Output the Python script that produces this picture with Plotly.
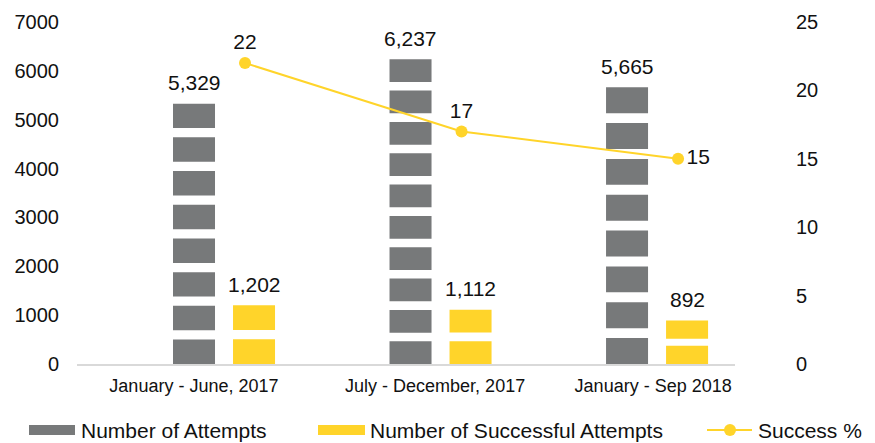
import numpy as np
import plotly.graph_objects as go

# ---- data -------------------------------------------------------------
periods = ["January - June, 2017", "July - December, 2017", "January - Sep 2018"]
attempts = [5329, 6237, 5665]
successful = [1202, 1112, 892]
success_pct = [22, 17, 15]

# ---- styling ----------------------------------------------------------
GRAY = "#77797A"
YELLOW = "#FFD42A"
FONT = "Arial, Liberation Sans, sans-serif"
TEXT = "#111111"

attempt_pieces = [8, 10, 8]      # stacked picture pieces per bar
success_pieces = [2, 2, 2]
gap_ratio = 0.38                 # white gap height relative to a piece

bar_width = 0.194
gray_offset = -0.2356            # left edge of grey bar relative to category
yellow_offset = 0.0416
label_shift = [-0.139, -0.025, -0.018]

x_pos = np.arange(len(periods))

fig = go.Figure()


def add_pieces(values, pieces, offset, color):
    """Draw each bar as a column of separated blocks."""
    for k in range(max(pieces)):
        xs, bases, heights = [], [], []
        for i, (v, n) in enumerate(zip(values, pieces)):
            if k >= n:
                continue
            s = v / (n + (n - 1) * gap_ratio)
            xs.append(x_pos[i])
            bases.append(k * s * (1 + gap_ratio))
            heights.append(s)
        fig.add_trace(go.Bar(
            x=xs, y=heights, base=bases, width=bar_width, offset=offset,
            marker=dict(color=color, line=dict(width=0)),
            showlegend=False, hoverinfo="skip",
        ))


add_pieces(attempts, attempt_pieces, gray_offset, GRAY)
add_pieces(successful, success_pieces, yellow_offset, YELLOW)

# success rate line on the secondary axis
fig.add_trace(go.Scatter(
    x=x_pos + 0.097, y=success_pct, yaxis="y2",
    mode="lines+markers+text",
    line=dict(color=YELLOW, width=2),
    marker=dict(color=YELLOW, size=12),
    text=[str(v) for v in success_pct],
    textposition=["top center", "top center", "middle right"],
    textfont=dict(family=FONT, size=21, color=TEXT),
    showlegend=False, hoverinfo="skip",
))

annotations = []
for i in range(len(periods)):
    for vals, off in ((attempts, gray_offset), (successful, yellow_offset)):
        annotations.append(dict(
            x=x_pos[i] + off + bar_width / 2, y=vals[i], xref="x", yref="y",
            text=f"{vals[i]:,}", showarrow=False, yanchor="middle", yshift=21,
            font=dict(family=FONT, size=21, color=TEXT),
        ))

# legend drawn along the bottom edge
PLOT_W, PLOT_H = 658, 342
legend_y = (364 - 430) / PLOT_H
box_half = 5 / PLOT_H
shapes = [
    dict(type="rect", xref="paper", yref="paper",
         x0=(29 - 77) / PLOT_W, x1=(75 - 77) / PLOT_W,
         y0=legend_y - box_half, y1=legend_y + box_half,
         fillcolor=GRAY, line=dict(width=0)),
    dict(type="rect", xref="paper", yref="paper",
         x0=(318 - 77) / PLOT_W, x1=(365 - 77) / PLOT_W,
         y0=legend_y - box_half, y1=legend_y + box_half,
         fillcolor=YELLOW, line=dict(width=0)),
    dict(type="line", xref="paper", yref="paper",
         x0=(707 - 77) / PLOT_W, x1=(752 - 77) / PLOT_W, y0=legend_y, y1=legend_y,
         line=dict(color=YELLOW, width=2)),
    dict(type="circle", xref="paper", yref="paper",
         x0=(724 - 77) / PLOT_W, x1=(736 - 77) / PLOT_W,
         y0=legend_y - 6 / PLOT_H, y1=legend_y + 6 / PLOT_H,
         fillcolor=YELLOW, line=dict(width=0)),
]
for name, px in (("Number of Attempts", 79), ("Number of Successful Attempts", 368),
                 ("Success %", 756)):
    annotations.append(dict(
        x=(px - 77) / PLOT_W, y=legend_y, xref="paper", yref="paper",
        text=name, showarrow=False, xanchor="left", yanchor="middle",
        font=dict(family=FONT, size=21, color=TEXT),
    ))

fig.update_layout(
    width=875, height=443,
    margin=dict(l=77, r=140, t=22, b=79),
    paper_bgcolor="white", plot_bgcolor="white",
    barmode="overlay",
    font=dict(family=FONT, color=TEXT),
    xaxis=dict(
        range=[-0.679, 2.360],
        tickvals=x_pos + np.array(label_shift), ticktext=periods,
        showgrid=False, zeroline=False, showline=True,
        linecolor="#D9D9D9", linewidth=2, ticks="",
        tickfont=dict(size=18, family=FONT, color=TEXT),
        ticklabelstandoff=4,
    ),
    yaxis=dict(
        range=[0, 7000], tickvals=list(range(0, 7001, 1000)),
        showgrid=False, zeroline=False, showline=False, ticks="",
        tickfont=dict(size=20, family=FONT, color=TEXT),
        ticklabelstandoff=17,
    ),
    yaxis2=dict(
        range=[0, 25], tickvals=list(range(0, 26, 5)),
        overlaying="y", side="right",
        showgrid=False, zeroline=False, showline=False, ticks="",
        tickfont=dict(size=20, family=FONT, color=TEXT),
        ticklabelstandoff=60,
    ),
    annotations=annotations,
    shapes=shapes,
)

fig.write_html("out.html")
